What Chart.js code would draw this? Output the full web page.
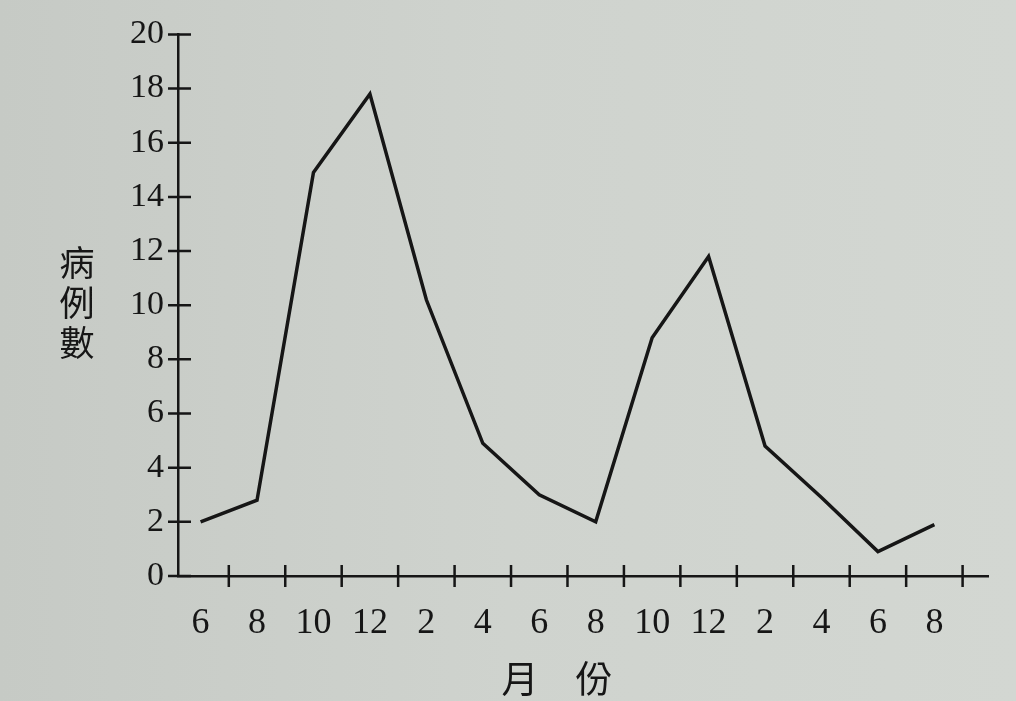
<!DOCTYPE html>
<html>
<head>
<meta charset="utf-8">
<script src="https://cdn.jsdelivr.net/npm/chart.js@4/dist/chart.umd.min.js"></script>
<style>
  html, body { margin: 0; padding: 0; background: #cfd3ce; }
  #wrap { width: 1016px; height: 701px; position: relative; }
</style>
</head>
<body>
<div id="wrap"><canvas id="c" width="1016" height="701"></canvas></div>
<script>
// Month labels along the x axis (every two months)
const monthLabels = ['6', '8', '10', '12', '2', '4', '6', '8', '10', '12', '2', '4', '6', '8'];
// Number of cases
const caseCounts = [2, 2.8, 14.9, 17.8, 10.2, 4.9, 3, 2, 8.8, 11.8, 4.8, 2.9, 0.9, 1.9];
// Y-axis tick values
const yTicks = [0, 2, 4, 6, 8, 10, 12, 14, 16, 18, 20];
const yTitle = ['病', '例', '數'];
const xTitle = '月　份';

const ink = '#161616';

const bgPlugin = {
  id: 'paperBg',
  beforeDraw(chart) {
    const ctx = chart.ctx;
    const g = ctx.createLinearGradient(0, 0, chart.width, 0);
    g.addColorStop(0, '#c6cac5');
    g.addColorStop(0.5, '#cfd3ce');
    g.addColorStop(1, '#d3d7d2');
    ctx.save();
    ctx.fillStyle = g;
    ctx.fillRect(0, 0, chart.width, chart.height);
    ctx.restore();
  }
};

const crossTicks = {
  id: 'crossTicks',
  afterDraw(chart) {
    const ctx = chart.ctx;
    const xs = chart.scales.x, ys = chart.scales.y;
    const area = chart.chartArea;
    ctx.save();
    ctx.strokeStyle = ink;
    ctx.lineWidth = 2.5;
    ctx.beginPath();
    ys.ticks.forEach(t => {
      const py = ys.getPixelForValue(t.value);
      ctx.moveTo(area.left - 10, py);
      ctx.lineTo(area.left + 13, py);
    });
    for (let i = 0; i < monthLabels.length; i++) {
      const px = xs.getPixelForValue(i + 0.5);
      ctx.moveTo(px, area.bottom - 11);
      ctx.lineTo(px, area.bottom + 11);
    }
    ctx.stroke();

    // axis titles
    ctx.fillStyle = ink;
    ctx.textAlign = 'center';
    ctx.textBaseline = 'middle';
    ctx.font = '35px "Noto Sans CJK TC"';
    const midY = (ys.getPixelForValue(8) + ys.getPixelForValue(12)) / 2 - 2;
    yTitle.forEach((ch, i) => {
      ctx.fillText(ch, 77, midY + (i - 1) * 40);
    });
    ctx.font = '37px "Noto Sans CJK TC"';
    ctx.fillText(xTitle, 557, 679);
    ctx.restore();
  }
};

new Chart(document.getElementById('c'), {
  type: 'line',
  data: {
    datasets: [{
      data: caseCounts.map((v, i) => ({ x: i, y: v })),
      borderColor: ink,
      borderWidth: 3.5,
      pointRadius: 0,
      tension: 0,
      fill: false
    }]
  },
  options: {
    responsive: false,
    animation: false,
    layout: { padding: { left: 0, top: 33, right: 28, bottom: 0 } },
    plugins: { legend: { display: false }, tooltip: { enabled: false } },
    scales: {
      x: {
        type: 'linear',
        min: -0.4,
        max: 13.95,
        afterBuildTicks(scale) {
          scale.ticks = monthLabels.map((_, i) => ({ value: i }));
        },
        afterFit(scale) { scale.height = 125; },
        grid: { display: false, drawTicks: false },
        border: { display: true, color: ink, width: 2.5 },
        ticks: {
          autoSkip: false,
          maxRotation: 0,
          padding: 26,
          color: ink,
          font: { family: '"Liberation Serif"', size: 36 },
          callback: (v) => monthLabels[v] ?? ''
        }
      },
      y: {
        min: 0,
        max: 20,
        afterBuildTicks(scale) {
          scale.ticks = yTicks.map(v => ({ value: v }));
        },
        afterFit(scale) { scale.width = 178; },
        grid: { display: false, drawTicks: false },
        border: { display: true, color: ink, width: 2.5 },
        ticks: {
          padding: 14,
          color: ink,
          font: { family: '"Liberation Serif"', size: 34 },
          callback: (v) => String(v)
        }
      }
    }
  },
  plugins: [bgPlugin, crossTicks]
});
</script>
</body>
</html>
